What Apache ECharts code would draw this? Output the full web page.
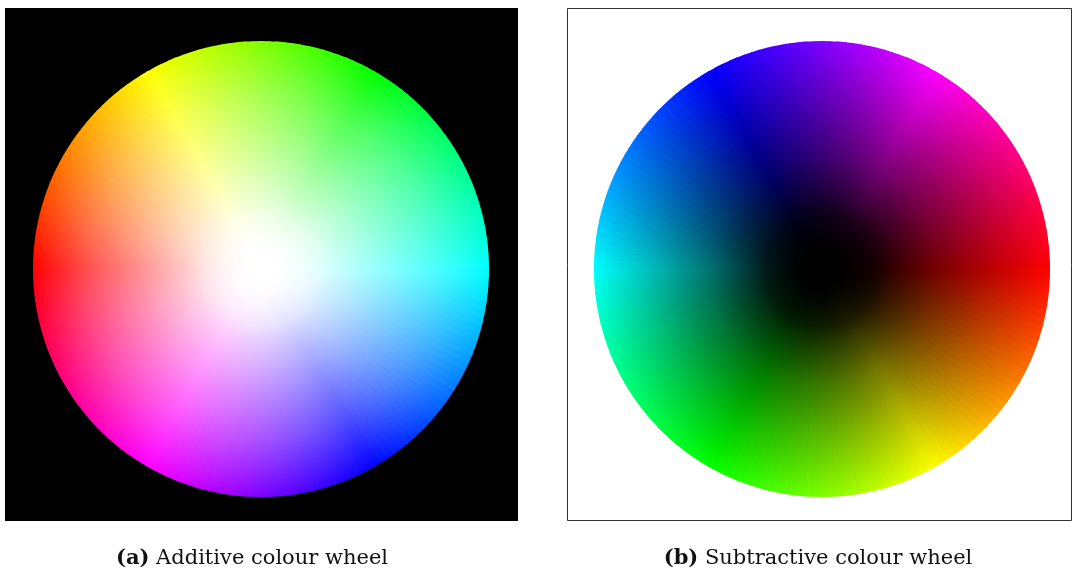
<!DOCTYPE html>
<html>
<head>
<meta charset="utf-8">
<script src="https://cdn.jsdelivr.net/npm/echarts@6/dist/echarts.min.js"></script>
<style>
  html, body { margin: 0; padding: 0; background: #fff; }
  #chart { width: 1073px; height: 572px; }
</style>
</head>
<body>
<div id="chart"></div>
<script>
// primaries and where each peaks on the wheel (degrees, counter-clockwise from east)
const primaryNames = ['red', 'yellow', 'green', 'cyan', 'blue', 'magenta'];
const primaryHues = [0, 60, 120, 180, 240, 300];
const additiveAngles = [180, 120, 60, 0, 300, 240];
const subtractiveAngles = [0, 300, 240, 180, 120, 60];
// how much of the pure hue shows at each fraction of the radius
const radialStops = [0, 0.1, 0.25, 0.5, 0.75, 1];
const additiveMix = [0, 0.03, 0.12, 0.4, 0.68, 1];
const subtractiveMix = [0, 0.03, 0.12, 0.46, 0.74, 1];
const centreColours = ['255,255,255', '0,0,0'];
const captionTags = ['(a)', '(b)'];
const captionTexts = ['Additive colour wheel', 'Subtractive colour wheel'];

const SLICES = 180;
const R = 228;
const centres = [[261, 269], [822, 269]];

// hue at a given angle from the anchor list
function hueAt(angles, theta) {
  const red = angles[primaryNames.indexOf('red')];
  const dir = ((angles[1] - red + 360) % 360) === 300 ? -1 : 1;
  return (((theta - red) * dir) % 360 + 360) % 360;
}

// additive: hue mixed with white, subtractive: hue mixed with black
function colourOf(h, s, additive) {
  const l = additive ? 100 - 50 * s : 50 * s;
  return 'hsl(' + h.toFixed(1) + ',100%,' + l.toFixed(1) + '%)';
}

function wheelData(angles, centre, mix, additive) {
  const out = [];
  const step = 360 / SLICES;
  for (let i = 0; i < SLICES; i++) {
    const h = hueAt(angles, (i + 0.5) * step);
    const grad = {
      type: 'radial', x: centre[0], y: centre[1], r: R, global: true,
      colorStops: radialStops.map((o, k) => ({ offset: o, color: colourOf(h, mix[k], additive) }))
    };
    out.push({ value: 1, itemStyle: { color: grad, borderColor: grad, borderWidth: 2, borderJoin: 'round' } });
  }
  return out;
}

const pieBase = {
  type: 'pie',
  startAngle: 0,
  clockwise: false,
  silent: true,
  label: { show: false },
  labelLine: { show: false },
  emphasis: { disabled: true }
};

function wheel(angles, centre, mix, additive) {
  return Object.assign({}, pieBase, {
    center: centre, radius: [0, R - 1],
    data: wheelData(angles, centre, mix, additive)
  });
}

// soft disc of the centre colour, hides the slice seams where they meet
function core(centre, rgb) {
  const r = R * 0.3;
  return Object.assign({}, pieBase, {
    center: centre, radius: [0, r], z: 3,
    data: [{ value: 1, itemStyle: { color: {
      type: 'radial', x: centre[0], y: centre[1], r: r, global: true,
      colorStops: [
        { offset: 0, color: 'rgba(' + rgb + ',1)' },
        { offset: 0.25, color: 'rgba(' + rgb + ',0.8)' },
        { offset: 0.55, color: 'rgba(' + rgb + ',0.35)' },
        { offset: 0.8, color: 'rgba(' + rgb + ',0.1)' },
        { offset: 1, color: 'rgba(' + rgb + ',0)' }
      ] } } }]
  });
}

const chart = echarts.init(document.getElementById('chart'), null, { renderer: 'canvas' });
const rich = {
  b: { fontFamily: 'DejaVu Serif', fontSize: 21, fontWeight: 'bold', color: '#111' },
  t: { fontFamily: 'DejaVu Serif', fontSize: 21, fontWeight: 'normal', color: '#111' }
};
chart.setOption({
  animation: false,
  backgroundColor: '#fff',
  title: captionTags.map((tag, i) => ({
    text: '{b|' + tag + '} {t|' + captionTexts[i] + '}',
    left: [247, 813][i], top: 543, textAlign: 'center',
    textStyle: { fontWeight: 'normal', fontFamily: 'DejaVu Serif', fontSize: 21, rich }
  })),
  graphic: [
    { type: 'rect', z: -1, shape: { x: 5, y: 8, width: 513, height: 513 }, style: { fill: '#000' } },
    { type: 'rect', z: -1, shape: { x: 567.5, y: 8.5, width: 504, height: 512 }, style: { fill: '#fff', stroke: '#333', lineWidth: 1 } }
  ],
  series: [
    wheel(additiveAngles, centres[0], additiveMix, true),
    wheel(subtractiveAngles, centres[1], subtractiveMix, false),
    core(centres[0], centreColours[0]),
    core(centres[1], centreColours[1])
  ]
});
</script>
</body>
</html>
